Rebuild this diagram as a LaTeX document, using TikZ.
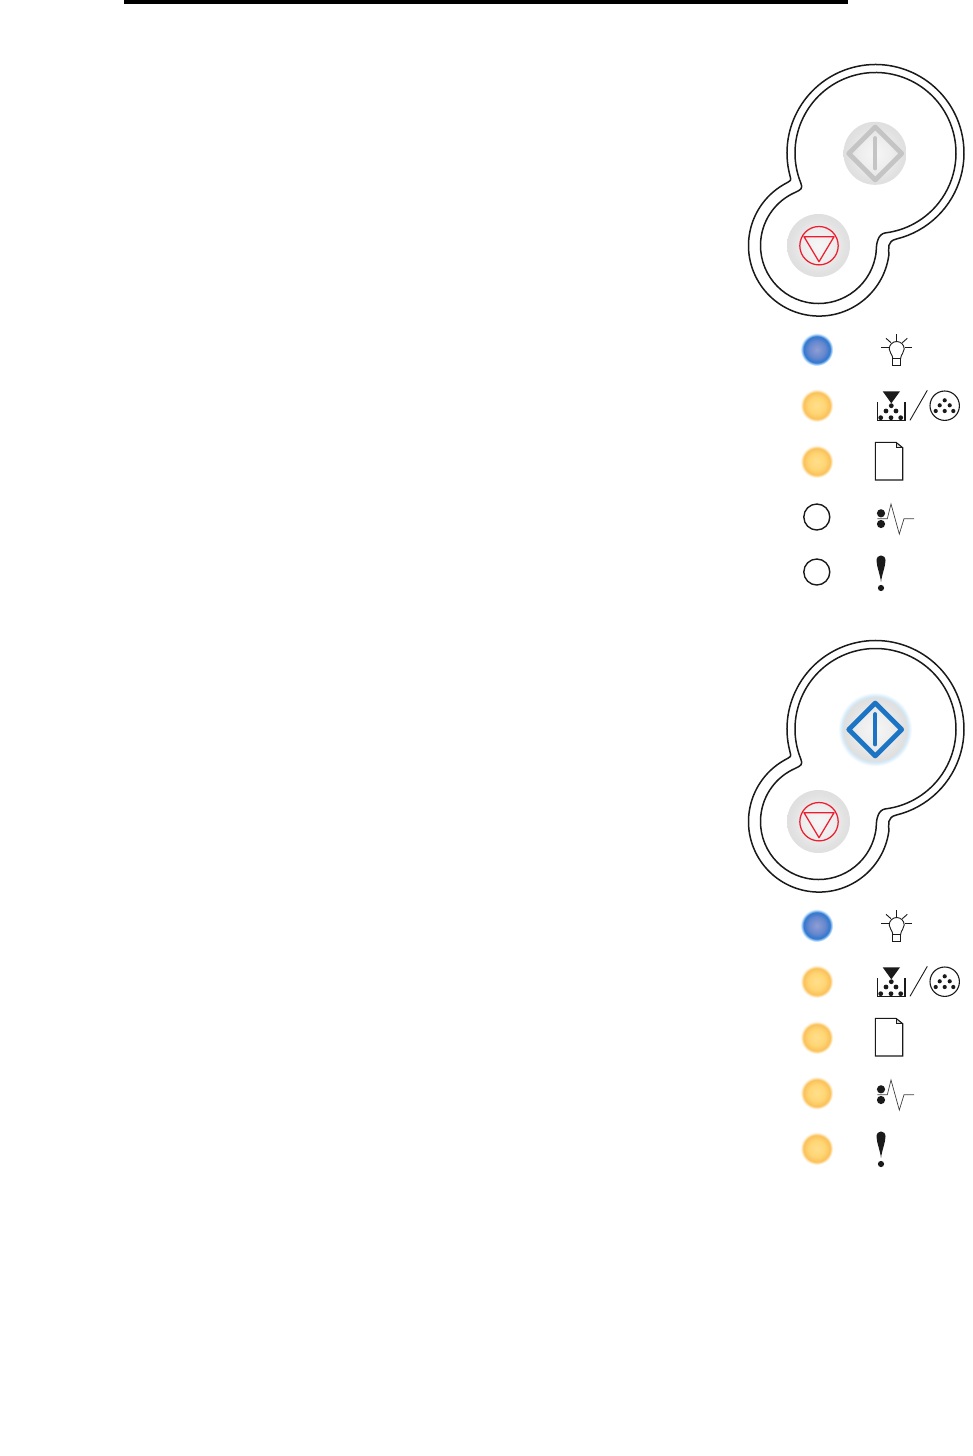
\documentclass[tikz,border=0pt]{standalone}
\definecolor{stopred}{HTML}{ED1C2E}
\definecolor{goblue}{HTML}{1B75C4}
\definecolor{gogray}{HTML}{C4C4C4}
\definecolor{inkline}{HTML}{1A1A1A}
\pgfdeclareradialshading{btnshade}{\pgfpointorigin}{gray(0bp)=(0.965);gray(12.5bp)=(0.93);gray(21bp)=(0.885);gray(25bp)=(0.875);gray(50bp)=(0.875)}
\pgfdeclareradialshading{blueled}{\pgfpointorigin}{rgb(0bp)=(0.56,0.62,0.83);rgb(13bp)=(0.40,0.53,0.81);rgb(19.5bp)=(0.20,0.47,0.80);rgb(20.5bp)=(0.22,0.50,0.84);rgb(22bp)=(0.55,0.75,0.95);rgb(25bp)=(1,1,1);rgb(50bp)=(1,1,1)}
\pgfdeclareradialshading{amberled}{\pgfpointorigin}{rgb(0bp)=(1,0.87,0.55);rgb(12bp)=(1,0.84,0.46);rgb(20bp)=(0.98,0.76,0.36);rgb(21bp)=(0.99,0.80,0.45);rgb(22.5bp)=(1,0.90,0.72);rgb(25bp)=(1,1,1);rgb(50bp)=(1,1,1)}
\pgfdeclareradialshading{goglow}{\pgfpointorigin}{gray(0bp)=(0.965);gray(11bp)=(0.93);gray(19bp)=(0.885);gray(21.3bp)=(0.875);rgb(22.3bp)=(0.82,0.91,0.97);rgb(25bp)=(1,1,1);rgb(50bp)=(1,1,1)}
\tikzset{
  x=1pt,y=1pt,
  outline/.style={draw=inkline,line width=1.5pt,line join=round},
  stopmark/.style={draw=stopred,line width=1.25pt,line join=round},
  goframe/.style={line width=4.7pt,line join=round},
  gobar/.style={line width=3.8pt,line cap=round},
  offled/.style={draw=inkline,line width=1.4pt,fill=white},
  iconline/.style={draw=inkline,line width=0.9pt,line join=miter},
  thinline/.style={draw=black!75,line width=0.7pt},
  icondot/.style={fill=inkline,draw=none},
}
\newcommand{\ledcol}[2]{\shade[shading=#1] (816.7,-#2) circle[radius=16.5];}
\newcommand{\ledoff}[1]{\draw[offled] (816.8,-#1) circle[radius=13];}
\newcommand{\outlineshapes}{%
  \coordinate (bigc) at (875.5,-153);
  \coordinate (smallc) at (818.5,-245.5);
  \draw[outline] ([shift={(194.4:88.5)}]bigc) arc[start angle=194.4,end angle=-76.2,radius=88.5]
    .. controls +(-10,-2.4) and +(0,7) .. ([shift={(-7.7:71)}]smallc)
    arc[start angle=-7.7,end angle=-240,radius=70.5]
    .. controls +(8,4.6) and +(1.6,-6.5) .. ([shift={(194.4:88.5)}]bigc) -- cycle;
  \draw[outline] ([shift={(201.9:80.5)}]bigc) arc[start angle=201.9,end angle=-83,radius=80.5]
    .. controls +(-7,-1) and +(0,9) .. ([shift={(-6:58)}]smallc)
    arc[start angle=-6,end angle=-246.2,radius=58]
    .. controls +(5.5,2.5) and +(2.5,-5.5) .. ([shift={(201.9:80.5)}]bigc) -- cycle;
}
\newcommand{\stopbutton}{%
  \shade[shading=btnshade] (818.5,-245.5) circle[radius=31.5];
  \draw[stopmark] (819,-245.7) circle[radius=19.2];
  \draw[stopmark] (804,-236.7) -- (834,-236.7) -- (819,-261.7) -- cycle;
}
\newcommand{\gomark}[1]{%
  \draw[goframe,draw=#1] (875.2,-127) -- (901.7,-153.5) -- (875.2,-180) -- (848.7,-153.5) -- cycle;
  \draw[gobar,draw=#1] (875.2,-138) -- (875.2,-168.5);
}
\newcommand{\icons}{%
  % bulb
  \draw[iconline] (896.7,-334.3) -- (896.7,-341);
  \draw[iconline] (881.3,-347.7) -- (888.7,-347.7);
  \draw[iconline] (904.7,-347.7) -- (912,-347.7);
  \draw[iconline] (886,-338.3) -- (891,-342.7);
  \draw[iconline] (907.3,-338.3) -- (902.3,-342.7);
  \draw[iconline] (892.8,-358.5) .. controls (892.5,-354) and (889.2,-353) .. (889.2,-349)
     arc[start angle=180,end angle=0,radius=7.5]
     .. controls (904.2,-353) and (900.9,-354) .. (900.6,-358.5) -- cycle;
  \draw[iconline] (892.8,-358.5) rectangle (900.6,-365.8);
  % toner
  \draw[iconline,line width=1.1pt] (877.3,-402.3) -- (877.3,-420.3) -- (905,-420.3) -- (905,-402.3);
  \fill[inkline] (882.7,-391.3) -- (900,-391.3) -- (891.3,-403.3) -- cycle;
  \foreach \px/\py in {891.3/405.7,886/411,896/411,880.7/417.7,891/417.7,900.7/417.7}
    \fill[icondot] (\px,-\py) circle[radius=2.4];
  \draw[iconline] (910,-420.3) -- (927.3,-390.3);
  \draw[iconline,line width=1.1pt] (944.7,-405.7) circle[radius=14.7];
  \foreach \px/\py in {944.7/400.3,939.7/405.3,949.7/405.3,935.7/411,944.7/411,953.3/411}
    \fill[icondot] (\px,-\py) circle[radius=2.1];
  % paper
  \fill[black!12] (896,-442.3) -- (902.7,-447.7) -- (896,-447.7) -- cycle;
  \draw[iconline,line width=0.6pt] (896,-442.3) -- (896,-447.7) -- (902.7,-447.7);
  \draw[iconline,line width=1.1pt] (896,-442.3) -- (875.3,-442.3) -- (875.3,-480) -- (902.7,-480) -- (902.7,-447.7) -- cycle;
  % jam
  \fill[icondot] (881,-513.3) circle[radius=4.1];
  \fill[icondot] (881,-524) circle[radius=4.1];
  \draw[thinline] (877.3,-518.7) -- (887.3,-518.7) -- (891,-504) -- (899.3,-534) -- (904,-518.7) -- (914,-518.7);
  % attention
  \fill[inkline] (881,-582) .. controls (880,-574) and (876.5,-566) .. (876.5,-560.5)
     .. controls (876.5,-553.8) and (885.5,-553.8) .. (885.5,-560.5)
     .. controls (885.5,-566) and (882,-574) .. (881,-582) -- cycle;
  \fill[inkline] (881,-588) circle[radius=3.1];
}
\begin{document}
\begin{tikzpicture}
\useasboundingbox (0,0) rectangle (972,-1456);
\fill[white] (0,0) rectangle (972,-1456);
\fill[black] (124,0) rectangle (848,-4);
% upper panel
\outlineshapes
\stopbutton
\shade[shading=btnshade] (875,-153.3) circle[radius=31.5];
\gomark{gogray}
\ledcol{blueled}{349.5}
\ledcol{amberled}{405.5}
\ledcol{amberled}{461.5}
\ledoff{517}
\ledoff{572}
\icons
% lower panel
\begin{scope}[yshift=-576pt]
\outlineshapes
\stopbutton
\shade[shading=goglow] (875,-153.3) circle[radius=37];
\gomark{goblue}
\ledcol{blueled}{349.5}
\ledcol{amberled}{405.5}
\ledcol{amberled}{461.5}
\ledcol{amberled}{517}
\ledcol{amberled}{572.5}
\icons
\end{scope}
\end{tikzpicture}
\end{document}
